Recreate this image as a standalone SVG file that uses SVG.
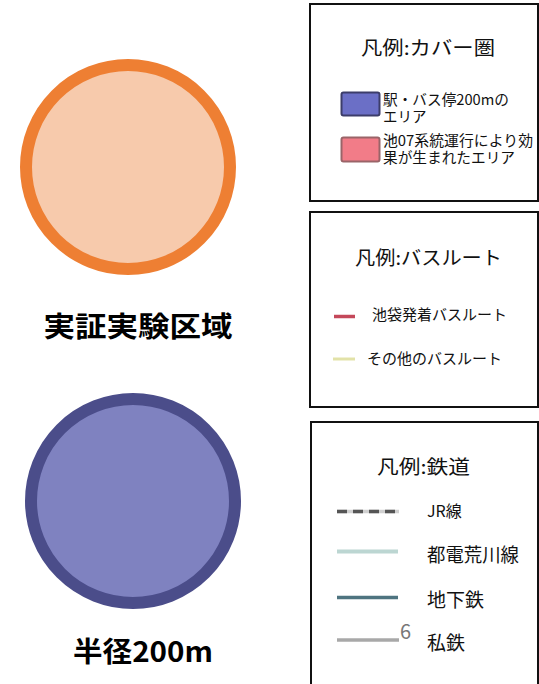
<svg xmlns="http://www.w3.org/2000/svg" width="539" height="684" viewBox="0 0 539 684">
<style>
.t{font-family:"Noto Sans CJK JP","Noto Sans",sans-serif;fill:#111}
.big{font-size:28px;font-weight:bold;fill:#000}
.ttl{font-size:19px}
.lab{font-size:15px}
.sm{font-size:14.5px}
.box{fill:#fff;stroke:#111;stroke-width:2}
</style>
<rect width="539" height="684" fill="#fff"/>
<g id="zone">
<circle cx="128" cy="167" r="102" fill="#f7caac" stroke="#ee7f33" stroke-width="12"/>
<text class="t big" x="138" y="337" text-anchor="middle" textLength="189" lengthAdjust="spacingAndGlyphs">実証実験区域</text>
</g>
<g id="radius">
<circle cx="133" cy="501" r="102" fill="#7f82c0" stroke="#4b4d8a" stroke-width="12"/>
<text class="t big" x="143" y="662" text-anchor="middle" textLength="140" lengthAdjust="spacingAndGlyphs">半径200m</text>
</g>
<g id="legend-cover">
<rect class="box" x="310" y="4" width="228" height="197"/>
<text class="t ttl" x="361" y="55" textLength="134" lengthAdjust="spacingAndGlyphs">凡例:カバー圏</text>
<rect x="341.5" y="92.5" width="38" height="23" rx="2" fill="#6b6fc6" stroke="#3c3d6a" stroke-width="2"/>
<text class="t sm"><tspan x="383" y="105" textLength="126" lengthAdjust="spacingAndGlyphs">駅・バス停200mの</tspan><tspan x="383" y="122">エリア</tspan></text>
<rect x="341.5" y="137.5" width="38" height="24" rx="2" fill="#f27c88" stroke="#9a6468" stroke-width="2"/>
<text class="t sm"><tspan x="383" y="146" textLength="150" lengthAdjust="spacingAndGlyphs">池07系統運行により効</tspan><tspan x="383" y="163" textLength="132" lengthAdjust="spacingAndGlyphs">果が生まれたエリア</tspan></text>
</g>
<g id="legend-bus">
<rect class="box" x="310" y="212" width="228" height="195"/>
<text class="t ttl" x="355" y="265" textLength="147" lengthAdjust="spacingAndGlyphs">凡例:バスルート</text>
<text class="t lab" x="372" y="320" textLength="135" lengthAdjust="spacingAndGlyphs">池袋発着バスルート</text>
<text class="t lab" x="367" y="364" textLength="135" lengthAdjust="spacingAndGlyphs">その他のバスルート</text>
</g>
<g id="legend-rail">
<rect class="box" x="311" y="422" width="227" height="270"/>
<text class="t ttl" x="377" y="474" textLength="93" lengthAdjust="spacingAndGlyphs">凡例:鉄道</text>
<text class="t" font-size="16" x="427" y="517">JR線</text>
<text class="t ttl" x="427" y="562" textLength="92" lengthAdjust="spacingAndGlyphs">都電荒川線</text>
<text class="t ttl" x="427" y="607">地下鉄</text>
<text class="t ttl" x="427" y="650">私鉄</text>
<text class="t" x="400" y="639" font-size="20" style="fill:#777">6</text>
</g>
<g id="connectors">
<line x1="334" y1="316.5" x2="355" y2="316.5" stroke="#c4485a" stroke-width="3.5"/>
<line x1="333" y1="359" x2="355" y2="359" stroke="#e2e2a8" stroke-width="3"/>
<line x1="337" y1="511.5" x2="399" y2="511.5" stroke="#d0d0d0" stroke-width="3.5"/>
<line x1="337" y1="511.5" x2="399" y2="511.5" stroke="#555" stroke-width="3.5" stroke-dasharray="10,6"/>
<line x1="337" y1="551.5" x2="398" y2="551.5" stroke="#bcd6d2" stroke-width="4"/>
<line x1="337" y1="597.5" x2="398" y2="597.5" stroke="#4e7480" stroke-width="3.5"/>
<line x1="337" y1="640" x2="399" y2="640" stroke="#a8a8a8" stroke-width="3.5"/>
</g>
</svg>
